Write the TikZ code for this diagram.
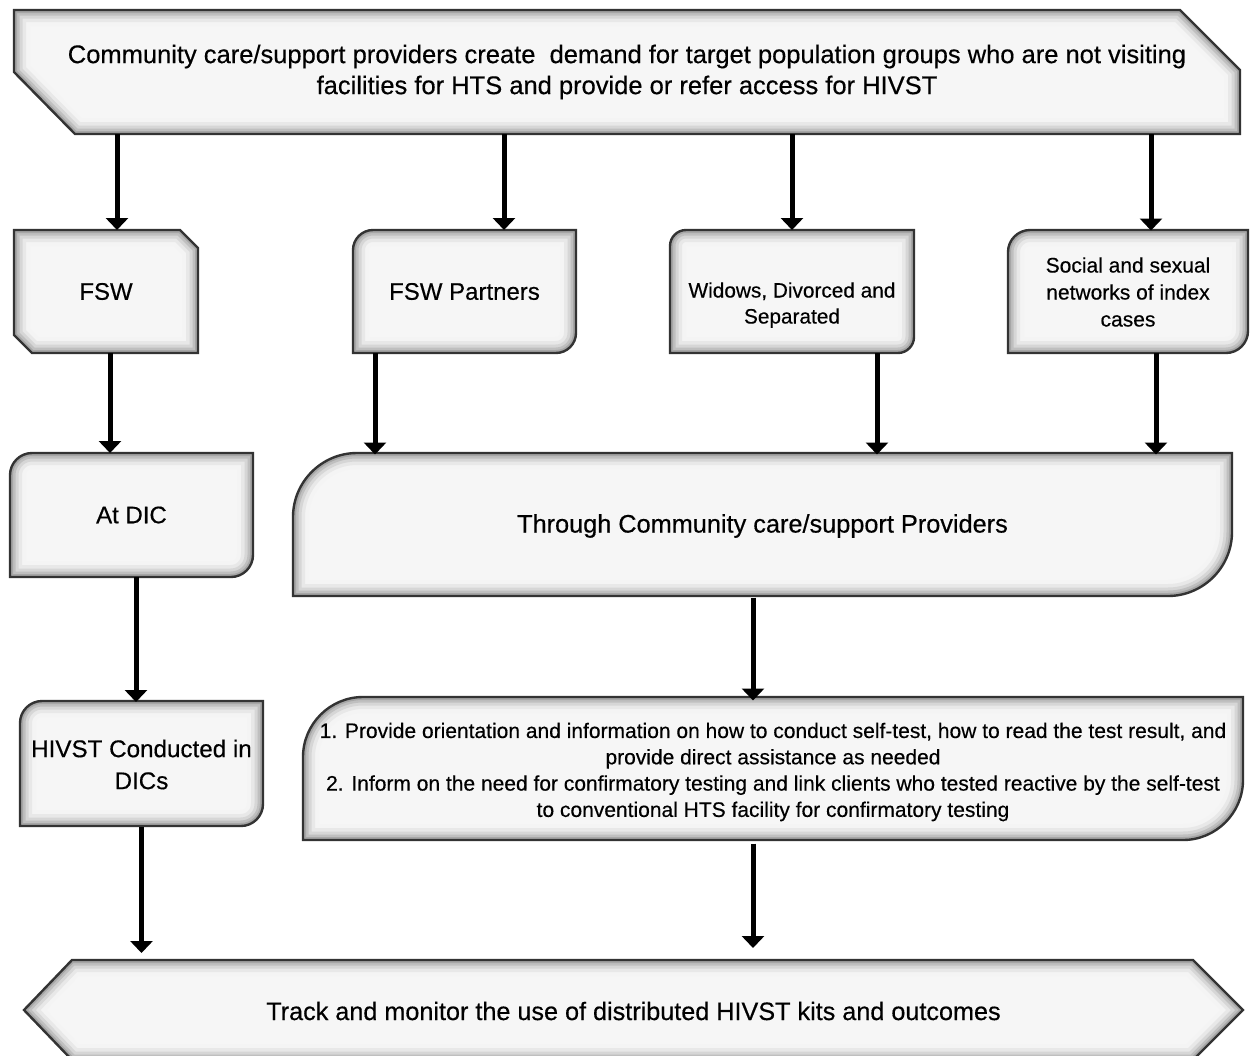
\documentclass[tikz,border=0pt]{standalone}
\usepackage{fontspec}
\setmainfont{Liberation Sans}[FakeBold=0.4]
\usetikzlibrary{arrows.meta}
\newcommand\glowshape[1]{%
  \begin{scope}
    \clip #1;
    \fill[gray!7] #1;
    \draw[line width=32, gray!9] #1;
    \draw[line width=24, gray!18] #1;
    \draw[line width=17, gray!32] #1;
    \draw[line width=11, gray!50] #1;
    \draw[line width=6, gray!70] #1;
  \end{scope}
  \draw[line width=2.4, black!80] #1;}
% rectangle with rounded top-left and bottom-right corners
\newcommand\rrpath[5]{(#1,#2+#5) .. controls (#1,#2+0.45*#5) and (#1+0.45*#5,#2) .. (#1+#5,#2) -- (#3,#2) -- (#3,#4-#5) .. controls (#3,#4-0.45*#5) and (#3-0.45*#5,#4) .. (#3-#5,#4) -- (#1,#4) -- cycle}
\tikzset{
  txt/.style={inner sep=0, outer sep=0, align=center, text=black},
  arr/.style={line width=5, -{Triangle[width=22pt,length=12pt]}},
}
\begin{document}
\begin{tikzpicture}[x=1pt,y=-1pt]
\useasboundingbox (0,0) rectangle (1250,1055);
% shapes
\glowshape{(14,10) -- (1180,10) -- (1240,70) -- (1240,134) -- (75,134) -- (14,72) -- cycle}
\glowshape{(14,230) -- (180,230) -- (198,248) -- (198,353) -- (32,353) -- (14,335) -- cycle}
\glowshape{\rrpath{353}{230}{576}{353}{20}}
\glowshape{\rrpath{670}{230}{914}{353}{16}}
\glowshape{\rrpath{1008}{230}{1248}{353}{22}}
\glowshape{\rrpath{10}{453}{253}{577}{22}}
\glowshape{\rrpath{293}{453}{1232}{596}{64}}
\glowshape{\rrpath{20}{701}{263}{826}{22}}
\glowshape{\rrpath{303}{697}{1243}{840}{60}}
\glowshape{(72,960) -- (1193,960) -- (1243,1010) -- (1193,1060) -- (72,1060) -- (24,1010) -- cycle}
% text nodes
\node[txt, minimum width=1226, minimum height=124, font=\fontsize{25.5}{31}\selectfont] (top) at (627,72)
  {Community care/support providers create\ \ demand for target population groups who are not visiting\\facilities for HTS and provide or refer access for HIVST};
\node[txt, minimum width=184, minimum height=123, font=\fontsize{24}{28}\selectfont] (fsw) at (106,291.5) {FSW};
\node[txt, minimum width=223, minimum height=123, font=\fontsize{24}{28}\selectfont] (partners) at (464.5,291.5) {FSW Partners};
\node[txt, minimum width=244, minimum height=123, font=\fontsize{20.8}{26}\selectfont] (widows) at (792,291.5)
  {\raisebox{-19pt}[0pt][0pt]{\begin{tabular}{@{}c@{}}Widows, Divorced and\\Separated\end{tabular}}};
\node[txt, minimum width=240, minimum height=123, font=\fontsize{21}{27}\selectfont] (social) at (1128,292) {Social and sexual\\networks of index\\cases};
\node[txt, minimum width=243, minimum height=124, font=\fontsize{24}{28}\selectfont] (atdic) at (131.5,515) {At DIC};
\node[txt, minimum width=939, minimum height=143, font=\fontsize{25.3}{28}\selectfont] (through) at (762.5,526) {Through Community care/support Providers};
\node[txt, minimum width=243, minimum height=125, font=\fontsize{24.2}{32}\selectfont] (hivst) at (141.5,764.5) {HIVST Conducted in\\DICs};
\node[txt, minimum width=940, minimum height=143, font=\fontsize{21}{26.3}\selectfont] (provide) at (773,772)
  {1. Provide orientation and information on how to conduct self-test, how to read the test result, and\\provide direct assistance as needed\\2. Inform on the need for confirmatory testing and link clients who tested reactive by the self-test\\to conventional HTS facility for confirmatory testing};
\node[txt, minimum width=1219, minimum height=100, font=\fontsize{25.2}{28}\selectfont] (track) at (633.5,1011) {Track and monitor the use of distributed HIVST kits and outcomes};
% connectors
\draw[arr] ([xshift=11]fsw.north |- top.south) -- ([xshift=11]fsw.north);
\draw[arr] ([xshift=39.5]partners.north |- top.south) -- ([xshift=39.5]partners.north);
\draw[arr] (widows.north |- top.south) -- (widows.north);
\draw[arr] ([xshift=23]social.north |- top.south) -- ([xshift=23]social.north);
\draw[arr] ([xshift=4]fsw.south) -- ([xshift=4]fsw.south |- atdic.north);
\draw[arr] ([xshift=-89.5]partners.south) -- ([xshift=-89.5]partners.south |- through.north);
\draw[arr] ([xshift=85]widows.south |- partners.south) -- ([xshift=85]widows.south |- through.north);
\draw[arr] ([xshift=28]social.south |- partners.south) -- ([xshift=28]social.south |- through.north);
\draw[arr] ([xshift=4.5]atdic.south) -- ([xshift=4.5]atdic.south |- hivst.north);
\draw[arr] ([xshift=-9.5]through.south) -- ([xshift=-9.5]through.south |- provide.north);
\draw[arr, shorten >=8] (hivst.south) -- (hivst.south |- track.north);
\draw[arr, shorten >=13] ([xshift=-20]provide.south) -- ([xshift=-20]provide.south |- track.north);
\end{tikzpicture}
\end{document}
